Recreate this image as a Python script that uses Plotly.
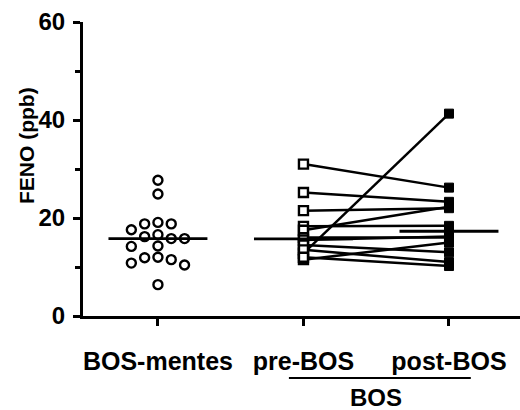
import math
import plotly.graph_objects as go

# Column labels on the x axis
categories = ["BOS-mentes", "pre-BOS", "post-BOS"]
group_label = "BOS"

# FENO (ppb) in patients without BOS
feno_no_bos = [27.7, 24.9, 19.1, 18.8, 17.6, 18.8, 16.2, 15.8, 15.8, 16.6,
               14.2, 14.3, 12.0, 10.8, 10.4, 11.5, 11.9, 6.4]

# Paired FENO (ppb) before and after BOS
feno_pre = [31.0, 25.2, 21.5, 18.3, 17.5, 12.8, 16.0, 15.5, 14.5, 13.5, 11.5, 12.0]
feno_post = [26.2, 23.3, 22.0, 18.4, 22.3, 41.3, 16.0, 16.2, 13.0, 11.0, 15.0, 10.2]

y_ticks = [0, 20, 40, 60]

W, H = 520, 410
M_L, M_R, M_T, M_B = 83, 0, 22, 94
X_RANGE = [-0.515, 2.488]
Y_RANGE = [0, 60]
PLOT_W = W - M_L - M_R
PLOT_H = H - M_T - M_B
px_per_x = PLOT_W / (X_RANGE[1] - X_RANGE[0])
px_per_y = PLOT_H / (Y_RANGE[1] - Y_RANGE[0])


def median(vals):
    s = sorted(vals)
    n = len(s)
    return s[n // 2] if n % 2 else (s[n // 2 - 1] + s[n // 2]) / 2


def beeswarm(vals, center, step_px=13.3, diam_px=11.0):
    """Spread points sideways so circles of diam_px do not overlap."""
    order = sorted(range(len(vals)), key=lambda i: -vals[i])
    placed = []
    xs = [0.0] * len(vals)
    slots = [0]
    for k in range(1, 8):
        slots += [-k, k]
    for i in order:
        for k in slots:
            ok = True
            for (pk, pv) in placed:
                dx = (k - pk) * step_px
                dy = (vals[i] - pv) * px_per_y
                if math.hypot(dx, dy) < diam_px:
                    ok = False
                    break
            if ok:
                placed.append((k, vals[i]))
                xs[i] = center + k * step_px / px_per_x
                break
    return xs


def paper_x(px):
    return (px - M_L) / PLOT_W


def paper_y(px):
    """Pixel row (from top of page) to paper coordinate."""
    return (H - M_B - px) / PLOT_H


fig = go.Figure()

# Connecting lines for the paired values
lx, ly = [], []
for a, b in zip(feno_pre, feno_post):
    lx += [1, 2, None]
    ly += [a, b, None]
fig.add_trace(go.Scatter(x=lx, y=ly, mode="lines",
                         line=dict(color="black", width=2.5),
                         hoverinfo="skip", showlegend=False))

# BOS-mentes scatter (open circles)
fig.add_trace(go.Scatter(
    x=beeswarm(feno_no_bos, 0), y=feno_no_bos, mode="markers",
    marker=dict(symbol="circle", size=9, color="white",
                line=dict(color="black", width=2.4)),
    showlegend=False))

# pre-BOS (open squares)
fig.add_trace(go.Scatter(
    x=[1] * len(feno_pre), y=feno_pre, mode="markers",
    marker=dict(symbol="square", size=9, color="white",
                line=dict(color="black", width=2.4)),
    showlegend=False))

# post-BOS (filled squares)
fig.add_trace(go.Scatter(
    x=[2] * len(feno_post), y=feno_post, mode="markers",
    marker=dict(symbol="square", size=9, color="black",
                line=dict(color="black", width=1)),
    showlegend=False))

# Median bars
half = 0.34
for c, vals in enumerate([feno_no_bos, feno_pre, feno_post]):
    m = median(vals)
    fig.add_trace(go.Scatter(x=[c - half, c + half], y=[m, m], mode="lines",
                             line=dict(color="black", width=2.8),
                             hoverinfo="skip", showlegend=False))

font_bold = dict(family="Liberation Sans, Arial, sans-serif", color="black", weight="bold")

fig.update_layout(
    width=W, height=H,
    margin=dict(l=M_L, r=M_R, t=M_T, b=M_B, pad=0),
    paper_bgcolor="white", plot_bgcolor="white",
    showlegend=False,
    xaxis=dict(
        range=X_RANGE, showgrid=False, zeroline=False,
        showline=True, linecolor="black", linewidth=3,
        tickmode="array", tickvals=list(range(len(categories))), ticktext=categories,
        ticks="outside", ticklen=7, tickwidth=3, tickcolor="black",
        ticklabelstandoff=14,
        tickfont=dict(size=25, **font_bold),
    ),
    yaxis=dict(
        range=Y_RANGE, showgrid=False, zeroline=False,
        showline=True, linecolor="black", linewidth=3,
        tickmode="array", tickvals=y_ticks, ticktext=[str(v) for v in y_ticks],
        ticks="outside", ticklen=7, tickwidth=3, tickcolor="black",
        ticklabelstandoff=3,
        tickfont=dict(size=24, **font_bold),
        minor=dict(tickmode="linear", tick0=0, dtick=10, ticks="outside",
                   ticklen=5, tickwidth=3, tickcolor="black", showgrid=False),
    ),
    annotations=[
        dict(text="FENO (ppb)", textangle=-90, xref="paper", yref="paper",
             x=paper_x(26), y=paper_y(146),
             xanchor="center", yanchor="middle", showarrow=False,
             font=dict(size=21, **font_bold)),
        dict(text=group_label, xref="x", yref="paper",
             x=1.5, y=paper_y(397),
             xanchor="center", yanchor="middle", showarrow=False,
             font=dict(size=24, **font_bold)),
    ],
    shapes=[
        dict(type="line", xref="x", yref="paper",
             x0=0.90, x1=2.15, y0=paper_y(378), y1=paper_y(378),
             line=dict(color="black", width=2)),
    ],
)

fig.write_html("out.html")
